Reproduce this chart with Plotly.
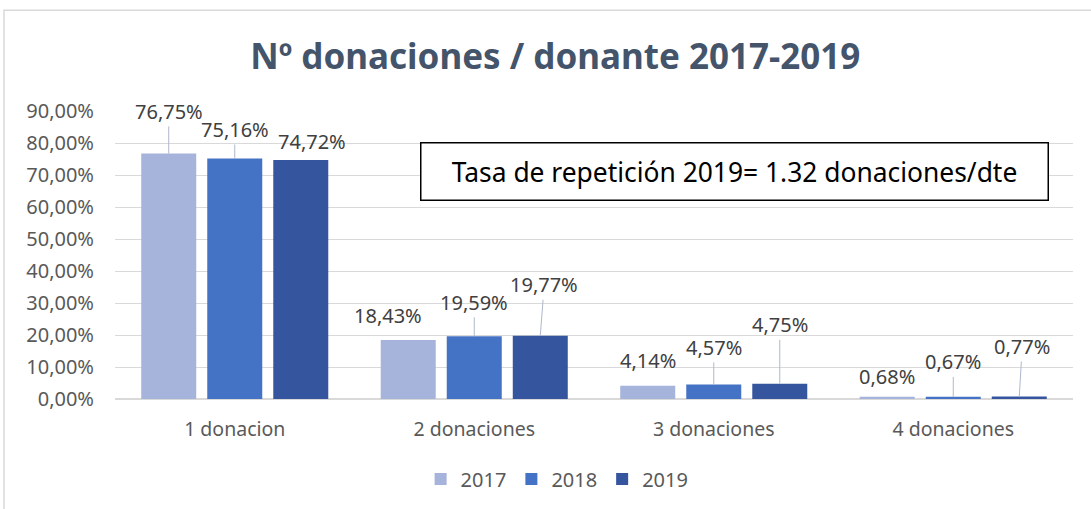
import plotly.graph_objects as go

categories = ["1 donacion", "2 donaciones", "3 donaciones", "4 donaciones"]
years = ["2017", "2018", "2019"]
v2017 = [0.7675, 0.1843, 0.0414, 0.0068]
v2018 = [0.7516, 0.1959, 0.0457, 0.0067]
v2019 = [0.7472, 0.1977, 0.0475, 0.0077]
series = [v2017, v2018, v2019]
colors = ["#A6B3DB", "#4472C4", "#35559F"]

title_text = "Nº donaciones / donante 2017-2019"
box_text = "Tasa de repetición 2019= 1.32 donaciones/dte"

# label offsets (pixels) relative to bar top: (ax, ay, show_line), per year then category
label_offsets = [
    [(0, -42, True), (-20, -25, False), (0, -25, False), (0, -20, False)],
    [(0, -29, True), (0, -34, True), (0, -37, True), (0, -35, True)],
    [(11, -18, False), (4, -51, True), (0, -59, True), (3, -50, True)],
]

FONT = "Noto Sans"
bargap = 0.173
bargroupgap = 0.167

fig = go.Figure()
for y, vals, col in zip(years, series, colors):
    fig.add_trace(go.Bar(name=y, x=categories, y=vals, marker=dict(color=col, line=dict(width=0))))

slot = (1 - bargap) / 3
annotations = []
for j, vals in enumerate(series):
    for i, v in enumerate(vals):
        ax, ay, line = label_offsets[j][i]
        annotations.append(dict(
            x=i + (j - 1) * slot, y=v, xref="x", yref="y",
            text=f"{v*100:.2f}%".replace(".", ","),
            showarrow=True, arrowhead=0, arrowwidth=1, standoff=0,
            arrowcolor="#AEB8CC" if line else "rgba(0,0,0,0)",
            ax=ax, ay=ay,
            font=dict(family=FONT, size=20, color="#404040"),
        ))

annotations.append(dict(
    x=0.6467, y=0.789, xref="paper", yref="paper", xanchor="center", yanchor="middle",
    text=box_text, showarrow=False, bgcolor="white",
    bordercolor="#000000", borderwidth=1.5, borderpad=2, width=622, height=52,
    font=dict(family=FONT, size=26.4, color="#000000"),
))

fig.update_layout(
    width=1091, height=509,
    margin=dict(l=115, r=18, t=111, b=109),
    paper_bgcolor="white", plot_bgcolor="white",
    separators=",.",
    barmode="group", bargap=bargap, bargroupgap=bargroupgap,
    title=dict(text=f"<b>{title_text}</b>", x=0.509, xanchor="center", y=0.888, yanchor="middle",
               font=dict(family=FONT, size=35, color="#44546A")),
    xaxis=dict(showgrid=False, showline=False, ticks="", ticklabelstandoff=16,
               tickfont=dict(family=FONT, size=19.5, color="#595959")),
    yaxis=dict(range=[0, 0.9], dtick=0.1, tickformat=".2%", showline=False,
               gridcolor="#D9D9D9", gridwidth=1, zeroline=True, zerolinecolor="#D9D9D9",
               ticks="", ticklabelstandoff=20,
               tickfont=dict(family=FONT, size=20, color="#595959")),
    legend=dict(orientation="h", x=0.4615, xanchor="center", y=-0.273, yanchor="middle",
                font=dict(family=FONT, size=20, color="#595959"), itemwidth=30,
                traceorder="normal"),
    annotations=annotations,
    shapes=[dict(type="rect", xref="paper", yref="paper", x0=-0.1159, x1=1.05, y0=-0.5, y1=1.3495,
                 line=dict(color="#D9D9D9", width=1.5), layer="below")],
)

fig.write_html("out.html", config={"displayModeBar": False},
               post_script="document.body.style.margin='0px';")
